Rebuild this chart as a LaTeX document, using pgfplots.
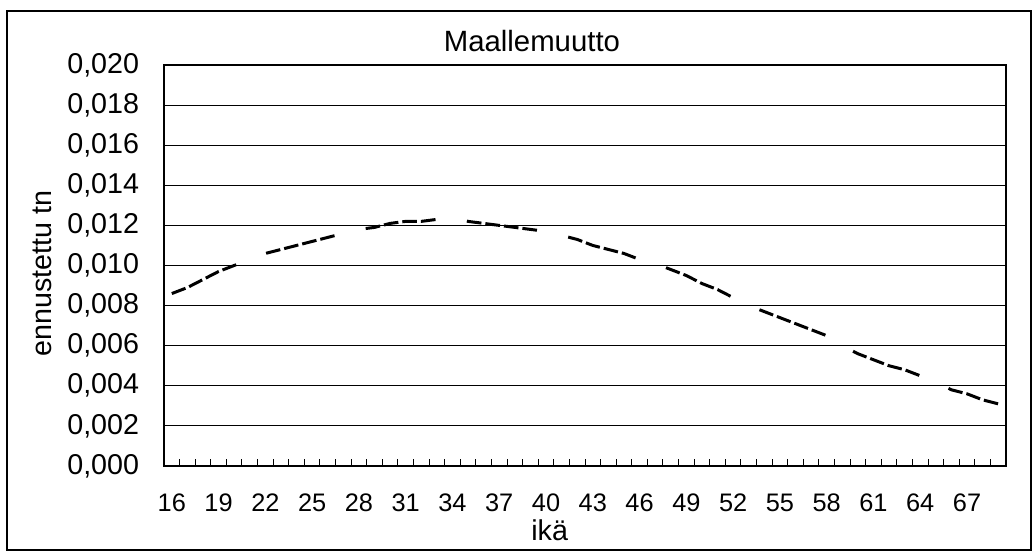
\documentclass[border=0pt]{standalone}
\usepackage{pgfplots}
\pgfplotsset{compat=1.18}
\usepackage{fontspec}
\setmainfont{Liberation Sans}
\begin{document}
\begin{tikzpicture}
\useasboundingbox (-123pt,-64.5pt) rectangle (652.5pt,349.5pt);
\begin{axis}[
  scale only axis,
  width=631.5pt, height=300.75pt,
  xmin=15.5, xmax=69.5,
  ymin=0, ymax=0.020,
  ytick={0,0.002,...,0.0201},
  xtick={16,19,...,67},
  minor xtick={15.5,16.5,...,69.5},
  major x tick style={draw=none},
  minor tick length=5pt,
  major tick length=7.5pt,
  tick align=inside,
  xtick pos=bottom, ytick pos=left,
  ymajorgrids,
  major grid style={black, line width=0.75pt},
  axis line style={line width=1.5pt},
  tick style={black, line width=0.75pt},
  scaled y ticks=false,
  /pgf/number format/assume math mode=true,
  yticklabel={\pgfmathprintnumber[fixed, fixed zerofill, precision=3, use comma]{\tick}},
  xticklabel style={font=\fontsize{19}{22}\selectfont, inner sep=0pt, anchor=north, yshift=-21pt},
  yticklabel style={font=\fontsize{21.5}{25}\selectfont, inner sep=0pt, anchor=east, xshift=-18.5pt},
  title={Maallemuutto},
  title style={at={(axis description cs:0.437,1.04)}, anchor=center, font=\fontsize{22}{26}\selectfont, inner sep=0pt},
  xlabel={ikä},
  xlabel style={at={(axis description cs:0.458,-0.16)}, anchor=center, font=\fontsize{21.5}{25}\selectfont, inner sep=0pt},
  ylabel={ennustettu tn},
  ylabel style={at={(axis description cs:-0.145,0.48)}, anchor=center, rotate=0, font=\fontsize{21.5}{25}\selectfont, inner sep=0pt},
]
\addplot[black, line width=2.25pt, sharp plot, mark=none, dash pattern=on 11pt off 3pt on 11pt off 3pt on 11pt off 3pt on 11pt off 24pt] table {
x y
16 0.0086
17 0.0089
18 0.0093
19 0.0097
20 0.0100
21 0.0103
22 0.0106
23 0.0108
24 0.0110
25 0.0112
26 0.0114
27 0.0116
28 0.0118
29 0.0119
30 0.0121
31 0.0122
32 0.0122
33 0.0123
34 0.0124
35 0.0122
36 0.0121
37 0.0120
38 0.0119
39 0.0118
40 0.0117
41 0.0115
42 0.0113
43 0.0110
44 0.0108
45 0.0106
46 0.0103
47 0.0101
48 0.0098
49 0.0095
50 0.0091
51 0.0088
52 0.0084
53 0.0080
54 0.0077
55 0.0074
56 0.0071
57 0.0068
58 0.0065
59 0.0060
60 0.0056
61 0.0053
62 0.0050
63 0.0048
64 0.0045
65 0.0042
66 0.0038
67 0.0036
68 0.0033
69 0.0031
};
\end{axis}
\draw[line width=1.5pt] (-117.75pt,-63pt) rectangle (650.25pt,341.25pt);
\end{tikzpicture}
\end{document}
